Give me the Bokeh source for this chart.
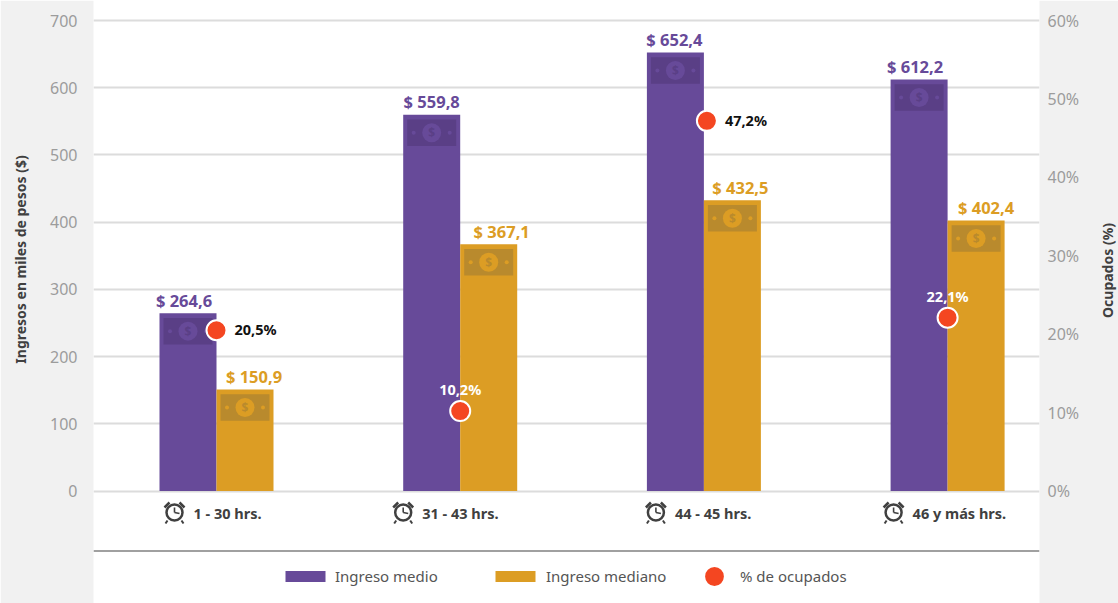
import math
from bokeh.plotting import figure
from bokeh.models import Range1d, LinearAxis, FixedTicker, Legend, LegendItem, Span, Label
from bokeh.core.properties import value
from bokeh.embed import file_html
from bokeh.resources import INLINE

categories = ["1 - 30 hrs.", "31 - 43 hrs.", "44 - 45 hrs.", "46 y más hrs."]
ingreso_medio = [264.6, 559.8, 652.4, 612.2]
ingreso_mediano = [150.9, 367.1, 432.5, 402.4]
ocupados = [20.5, 10.2, 47.2, 22.1]
medio_labels = ["$ 264,6", "$ 559,8", "$ 652,4", "$ 612,2"]
mediano_labels = ["$ 150,9", "$ 367,1", "$ 432,5", "$ 402,4"]
ocupados_labels = ["20,5%", "10,2%", "47,2%", "22,1%"]
y_ticks = [0, 100, 200, 300, 400, 500, 600, 700]
y2_ticks = [0, 10, 20, 30, 40, 50, 60]

BG = "#f1f1f1"
PURPLE, GOLD, RED = "#674a99", "#dc9d24", "#f44621"
PURPLE_D, GOLD_D = "#5a3f86", "#b98a2d"
FONT = "Noto Sans"

# layout: page pixels
W, H = 1118, 603
L, R, TOP, BOT = 93, 1039, 0, 603
Y0, Y700 = 490.5, 20.0
PXY = (Y0 - Y700) / 700.0
X0, DX = 216.0, 243.7
BW = 57 / DX
x_range = Range1d((L - X0) / DX, (R - X0) / DX)
y_range = Range1d((Y0 - BOT) / PXY, (Y0 - TOP) / PXY)
y2_range = Range1d(y_range.start * 60 / 700, y_range.end * 60 / 700)

def dx(px):
    return (px - X0) / DX

def dy(py):
    return (Y0 - py) / PXY

p = figure(width=W, height=H, x_range=x_range, y_range=y_range,
           output_backend="svg", toolbar_location=None,
           min_border_left=L, min_border_right=W - R, min_border_top=0, min_border_bottom=0,
           background_fill_alpha=0, border_fill_color=BG, outline_line_color=None)
p.xaxis.visible = False
p.xgrid.visible = False
p.extra_y_ranges = {"pct": y2_range}

ya = p.yaxis[0]
ya.ticker = FixedTicker(ticks=y_ticks)
ya2 = LinearAxis(y_range_name="pct", ticker=FixedTicker(ticks=y2_ticks),
                 major_label_overrides={t: f"{t}%" for t in y2_ticks})
p.add_layout(ya2, "right")
for a in (ya, ya2):
    a.axis_line_color = None
    a.major_tick_line_color = None
    a.minor_tick_line_color = None
    a.major_label_text_color = "#9c9c9c"
    a.major_label_text_font = FONT
    a.major_label_text_font_size = "16px"
ya.major_label_standoff = 10
ya2.major_label_standoff = 2

for text, px, py, side in (("Ingresos en miles de pesos ($)", 20, 259, "left"), ("Ocupados (%)", 1107, 270, "right")):
    p.add_layout(Label(x=dx(px), y=dy(py), text=text, angle=math.pi / 2, text_align="center",
                       text_baseline="middle", text_color="#404040", text_font=FONT,
                       text_font_style="bold", text_font_size="14px"), side)

p.ygrid.ticker = FixedTicker(ticks=y_ticks)
p.ygrid.grid_line_color = "#dcdcdc"
p.ygrid.grid_line_width = 2

idx = list(range(len(categories)))
xm = [i - BW / 2 for i in idx]
xd = [i + BW / 2 for i in idx]
r_med = p.vbar(x=xm, top=ingreso_medio, width=BW, fill_color=PURPLE, line_color=None)
r_mdn = p.vbar(x=xd, top=ingreso_mediano, width=BW, fill_color=GOLD, line_color=None)

# banknote decorations
for xs, tops, base, dark in ((xm, ingreso_medio, PURPLE, PURPLE_D), (xd, ingreso_mediano, GOLD, GOLD_D)):
    yc = [t - 18 / PXY for t in tops]
    p.rect(xs, yc, width=49, height=26.5, width_units="screen", height_units="screen",
           fill_color=dark, line_color=None)
    p.scatter(xs, yc, size=19, marker="circle", fill_color=base, line_color=None)
    p.scatter([x - 18 / DX for x in xs], yc, size=4, marker="circle", fill_color=base, line_color=None)
    p.scatter([x + 18 / DX for x in xs], yc, size=4, marker="circle", fill_color=base, line_color=None)
    p.text(xs, yc, text=["$"] * len(xs), text_color=dark, text_font=value(FONT), text_font_style="bold",
           text_font_size="12px", text_align="center", text_baseline="middle")

# value labels
p.text(xm, ingreso_medio, text=medio_labels, x_offset=[-4, 0, -1, -4], y_offset=-13,
       text_color=PURPLE, text_font=value(FONT), text_font_style="bold", text_font_size="16.5px",
       text_align="center", text_baseline="middle")
p.text(xd, ingreso_mediano, text=mediano_labels, x_offset=[9, 13, 8, 10], y_offset=-13,
       text_color=GOLD, text_font=value(FONT), text_font_style="bold", text_font_size="16.5px",
       text_align="center", text_baseline="middle")

# occupied points
xo = [i + 3 / DX if i == 2 else i for i in idx]
r_occ = p.scatter(xo, ocupados, y_range_name="pct", size=20, marker="circle",
                  fill_color=RED, line_color="white", line_width=2)
black = [0, 2]
white = [1, 3]
p.text([xo[i] for i in black], [ocupados[i] for i in black], y_range_name="pct",
       text=[ocupados_labels[i] for i in black], x_offset=18, y_offset=-1,
       text_color="#111111", text_font=value(FONT), text_font_style="bold", text_font_size="14.5px",
       text_align="left", text_baseline="middle")
p.text([xo[i] for i in white], [ocupados[i] for i in white], y_range_name="pct",
       text=[ocupados_labels[i] for i in white], y_offset=-22,
       text_color="white", text_font=value(FONT), text_font_style="bold", text_font_size="14.5px",
       text_align="center", text_baseline="middle")

# category labels with clock icons
YC = 512
yc_data = dy(YC)
start_px = [-23, -38, -29, -35]
p.text(idx, [yc_data] * 4, text=categories, x_offset=start_px, text_color="#404040",
       text_font=value(FONT), text_font_style="bold", text_font_size="14.5px",
       text_align="left", text_baseline="middle")
cx = [i + (s - 19) / DX for i, s in zip(idx, start_px)]
INK = "#404040"
p.scatter(cx, [yc_data] * 4, size=16, marker="circle", fill_color=None, line_color=INK, line_width=2.5)
parts = [((-10, -5), (-5, -10), 2.5), ((10, -5), (5, -10), 2.5),
         ((-7, 8), (-9, 11), 2), ((7, 8), (9, 11), 2),
         ((0, -5), (0, 0), 1.6), ((0, 0), (5, 1), 1.6)]
for a, b, lw in parts:
    xs_ = [[c + a[0] / DX, c + b[0] / DX] for c in cx]
    ys_ = [[yc_data - a[1] / PXY, yc_data - b[1] / PXY] for c in cx]
    p.multi_line(xs_, ys_, line_color=INK, line_width=lw)

# divider above the legend
p.add_layout(Span(location=dy(550.5), dimension="width", line_color="#808080", line_width=1.5))

def legend(item_label, renderer, x, y, gw, gh, standoff):
    lg = Legend(items=[LegendItem(label=item_label, renderers=[renderer])],
                location=(x - L, y), orientation="horizontal", border_line_color=None,
                background_fill_alpha=0, padding=0, margin=0, glyph_width=gw, glyph_height=gh,
                label_standoff=standoff, label_text_font=FONT, label_text_font_size="15px",
                label_text_color="#555555", label_height=20)
    p.add_layout(lg, "center")

legend("Ingreso medio", r_med, 280, 17, 50, 14, 5)
legend("Ingreso mediano", r_mdn, 490, 17, 50, 14, 6)
legend("% de ocupados", r_occ, 688, 1, 52, 52, -4)

html = file_html(p, INLINE)
html = html.replace("<body>", f'<body style="background:{BG};margin:0">', 1)
open("out.html", "w").write(html)
